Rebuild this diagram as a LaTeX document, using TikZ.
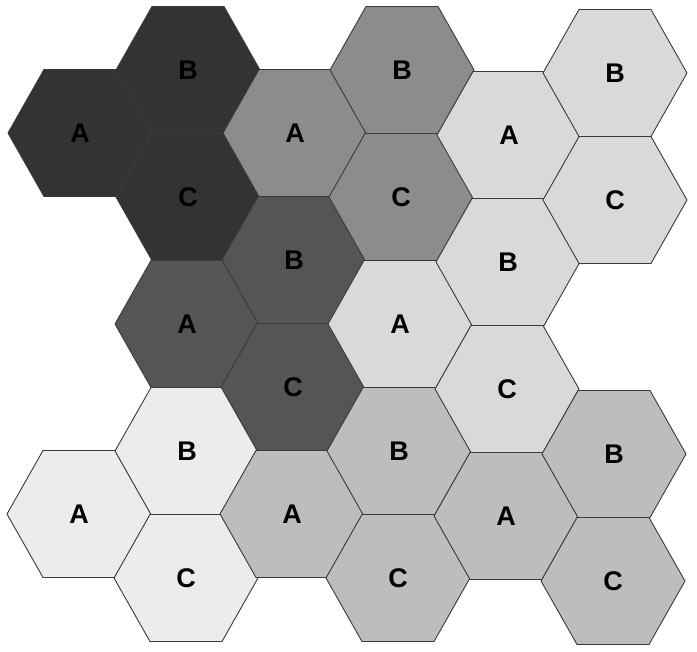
\documentclass[tikz,border=0pt]{standalone}
\usepackage{fontspec}
\setmainfont{Liberation Sans}
\definecolor{gA}{HTML}{333333}
\definecolor{gB}{HTML}{555555}
\definecolor{gC}{HTML}{8C8C8C}
\definecolor{gD}{HTML}{D9D9D9}
\definecolor{gE}{HTML}{ECECEC}
\definecolor{gF}{HTML}{BDBDBD}
\definecolor{edge}{HTML}{3A3A3A}
\tikzset{
  cell/.style={draw=edge, line width=0.9pt, line join=round},
  lbl/.style={font=\fontsize{27}{27}\selectfont\bfseries, text=black, inner sep=0pt}
}
\newcommand\hexcell[5]{%
  \fill[#3] (#1-72,#2) -- (#1-36,#2-63.5) -- (#1+36,#2-63.5) -- (#1+72,#2) -- (#1+36,#2+63.5) -- (#1-36,#2+63.5) -- cycle;
  \draw[cell] (#1-72,#2) -- (#1-36,#2-63.5) -- (#1+36,#2-63.5) -- (#1+72,#2) -- (#1+36,#2+63.5) -- (#1-36,#2+63.5) -- cycle;
  \node[lbl] (#5) at (#1,#2) {#4};
}
\begin{document}
\begin{tikzpicture}[x=1pt,y=-1pt]
\useasboundingbox (0,0) rectangle (697,652);
% column 0
\hexcell{80}{133}{gA}{A}{c0r0}
\hexcell{79}{514}{gE}{A}{c0r3}
% column 1
\hexcell{188}{70}{gA}{B}{c1r0}
\hexcell{188}{197}{gA}{C}{c1r1}
\hexcell{187}{324}{gB}{A}{c1r2}
\hexcell{187}{451}{gE}{B}{c1r3}
\hexcell{186}{578}{gE}{C}{c1r4}
% column 2
\hexcell{295}{133}{gC}{A}{c2r0}
\hexcell{294}{260}{gB}{B}{c2r1}
\hexcell{293}{387}{gB}{C}{c2r2}
\hexcell{292}{514}{gF}{A}{c2r3}
% column 3
\hexcell{402}{70}{gC}{B}{c3r0}
\hexcell{401}{197}{gC}{C}{c3r1}
\hexcell{400}{324}{gD}{A}{c3r2}
\hexcell{399}{451}{gF}{B}{c3r3}
\hexcell{398}{578}{gF}{C}{c3r4}
% column 4
\hexcell{509}{135}{gD}{A}{c4r0}
\hexcell{508}{262}{gD}{B}{c4r1}
\hexcell{507}{389}{gD}{C}{c4r2}
\hexcell{506}{516}{gF}{A}{c4r3}
% column 5
\hexcell{615}{73}{gD}{B}{c5r0}
\hexcell{615}{200}{gD}{C}{c5r1}
\hexcell{614}{454}{gF}{B}{c5r3}
\hexcell{613}{581}{gF}{C}{c5r4}
\end{tikzpicture}
\end{document}
